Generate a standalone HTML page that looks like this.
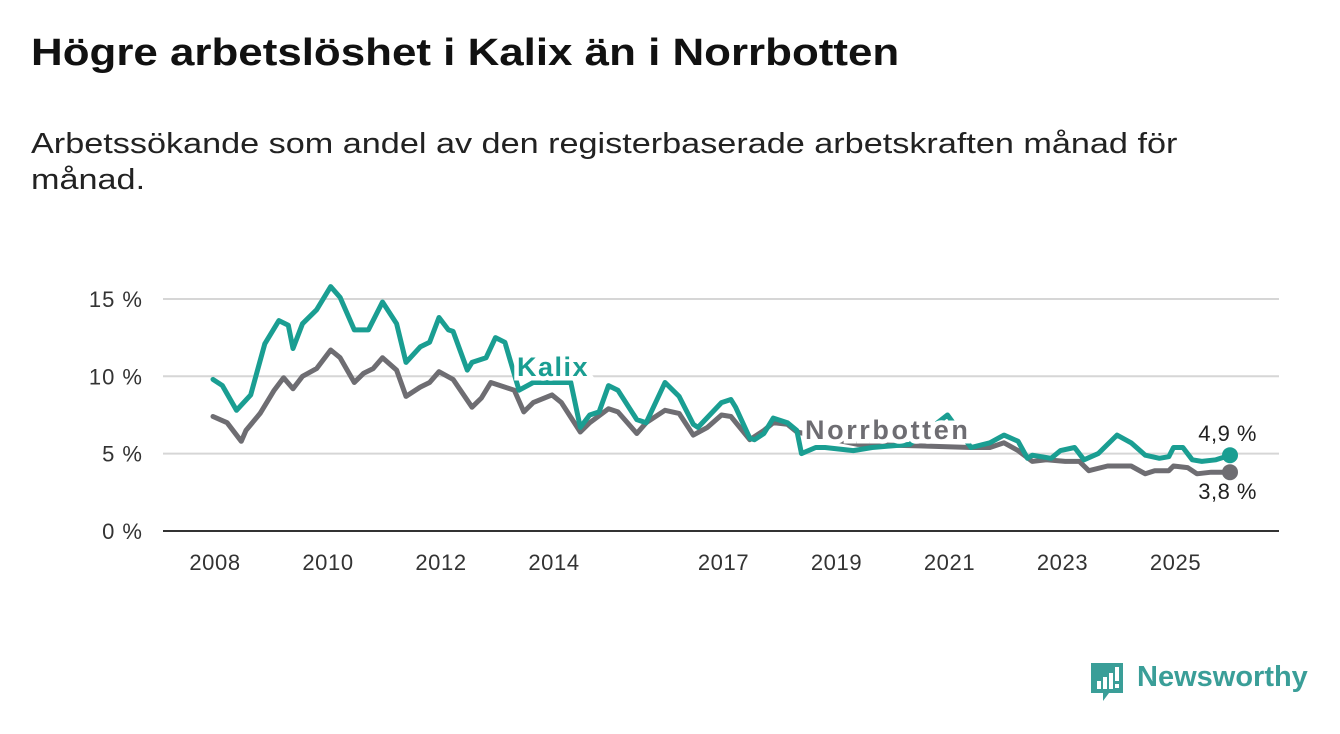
<!DOCTYPE html>
<html><head><meta charset="utf-8"><style>
body{margin:0;background:#fff;width:1340px;height:734px;overflow:hidden;font-family:"Liberation Sans",sans-serif}
h1{position:absolute;left:31px;top:32px;margin:0;font-size:38px;font-weight:bold;color:#111;transform-origin:0 0;transform:scaleX(1.155);white-space:nowrap}
p{position:absolute;left:31px;top:126px;margin:0;font-size:28.5px;line-height:36px;color:#222;width:1000px;transform-origin:0 0;transform:scaleX(1.2);white-space:nowrap}
</style></head><body>
<h1>Högre arbetslöshet i Kalix än i Norrbotten</h1>
<p>Arbetssökande som andel av den registerbaserade arbetskraften månad för<br>månad.</p>
<svg id="c" width="1340" height="734" style="position:absolute;left:0;top:0"></svg>
<script>
const kalixMonths=[0,2,5,8,11,14,16,17,19,22,25,27,30,33,36,39,41,44,46,48,50,51,54,55,58,60,62,65,68,76,78,80,82,84,86,90,92,96,99,102,103,108,110,111,114,115,117,119,122,124,125,128,130,136,140,148,156,161,165,168,171,173,174,178,180,183,185,188,192,195,198,201,203,204,206,208,210,213,216];
const kalixValues=[9.8,9.4,7.8,8.8,12.1,13.6,13.3,11.8,13.4,14.3,15.8,15.1,13.0,13.0,14.8,13.4,10.9,11.9,12.2,13.8,13.0,12.9,10.4,10.9,11.2,12.5,12.2,9.1,9.6,9.6,6.7,7.5,7.7,9.4,9.1,7.2,7.0,9.6,8.7,6.9,6.7,8.3,8.5,8.0,6.0,5.9,6.3,7.3,7.0,6.5,5.0,5.4,5.4,5.2,5.4,5.6,7.5,5.4,5.7,6.2,5.8,4.7,4.9,4.7,5.2,5.4,4.6,5.0,6.2,5.7,4.9,4.7,4.8,5.4,5.4,4.6,4.5,4.6,4.9];
const norrMonths=[0,3,6,7,10,13,15,17,19,22,25,27,30,32,34,36,39,41,44,46,48,51,55,57,59,62,64,66,68,72,74,78,80,84,86,90,92,96,99,102,105,108,110,114,117,119,122,124,137,150,161,165,168,171,174,177,181,184,186,190,195,198,200,203,204,207,209,212,216];
const norrValues=[7.4,7.0,5.8,6.5,7.6,9.1,9.9,9.2,10.0,10.5,11.7,11.2,9.6,10.2,10.5,11.2,10.4,8.7,9.3,9.6,10.3,9.8,8.0,8.6,9.6,9.3,9.1,7.7,8.3,8.8,8.3,6.4,7.0,7.9,7.7,6.3,7.0,7.8,7.6,6.2,6.7,7.5,7.4,5.9,6.5,7.0,6.9,6.4,5.6,5.5,5.4,5.4,5.7,5.2,4.5,4.6,4.5,4.5,3.9,4.2,4.2,3.7,3.9,3.9,4.2,4.1,3.7,3.8,3.8];
const yTicks=[0,5,10,15];
const xTickYears=[2008,2010,2012,2014,2017,2019,2021,2023,2025];

const NS='http://www.w3.org/2000/svg';
const svg=document.getElementById('c');
const xM=m=>213+m*56.5/12;
const xY=y=>215+(y-2008)*56.5;
const yV=v=>531-v*15.47;
function mk(t,a){const e=document.createElementNS(NS,t);for(const k in a)e.setAttribute(k,a[k]);svg.appendChild(e);return e;}
yTicks.forEach(t=>{
  const l=mk('line',{x1:163,x2:1279,y1:yV(t),y2:yV(t),stroke:t===0?'#333':'#d6d6d6','stroke-width':2});
  
  
  const tx=mk('text',{x:143,y:yV(t)+8,'text-anchor':'end','font-size':22,'letter-spacing':1,fill:'#333'});
  tx.textContent=t+' %';
  
  
});
xTickYears.forEach(y=>{
  const tx=mk('text',{x:xY(y),y:570,'text-anchor':'middle','font-size':22,'letter-spacing':0.6,fill:'#333'});
  tx.textContent=y;
  
  
});
function line(ms,vs,col,name){
  const d=ms.map((m,i)=>(i?'L':'M')+xM(m).toFixed(1)+','+yV(vs[i]).toFixed(1)).join('');
  const p=mk('path',{d:d,fill:'none',stroke:col,'stroke-width':5,'stroke-linejoin':'round','stroke-linecap':'round'});
  
  
  const n=ms.length-1;
  const c=mk('circle',{cx:xM(ms[n]),cy:yV(vs[n]),r:8,fill:col});
  
  
}
line(norrMonths,norrValues,'#6e6d72','norrbotten-line');
line(kalixMonths,kalixValues,'#1a9e92','kalix-line');
function lab(x,y,t,col,name,bold,anchor,ls){
  const e=mk('text',{x:x,y:y,'font-size':bold?27:22,'font-weight':bold?'bold':'normal',fill:col,stroke:'#fff','stroke-width':bold?9:5,'paint-order':'stroke','text-anchor':anchor||'start','letter-spacing':ls||0});
  e.textContent=t;
  
  
}
lab(517,376,'Kalix','#1a9e92','kalix-label',true,'start',1.5);
lab(805,439,'Norrbotten','#6e6d72','norrbotten-label',true,'start',2.6);
const nk=kalixValues.length-1, nn=norrValues.length-1;
lab(1257,441,String(kalixValues[nk]).replace('.',',')+' %','#222','kalix-last-value',false,'end',0.5);
lab(1257,499,String(norrValues[nn]).replace('.',',')+' %','#222','norrbotten-last-value',false,'end',0.5);
</script>
<div style="position:absolute;left:1089px;top:661px;width:220px;height:44px">
<svg width="36" height="42" style="position:absolute;left:0;top:0">
<path d="M2 2h32v30h-14l-6 8v-8H2z" fill="#3a9e98"/>
<rect x="8" y="20" width="4" height="8" fill="#fff"/><rect x="14" y="16" width="4" height="12" fill="#fff"/><rect x="20" y="12" width="4" height="16" fill="#fff"/><rect x="26" y="6" width="4" height="14" fill="#fff"/><rect x="26" y="23" width="4" height="4" fill="#fff"/>
</svg>
<span style="position:absolute;left:48px;top:0;font-size:29px;font-weight:bold;color:#3a9e98">Newsworthy</span>
</div>
</body></html>
